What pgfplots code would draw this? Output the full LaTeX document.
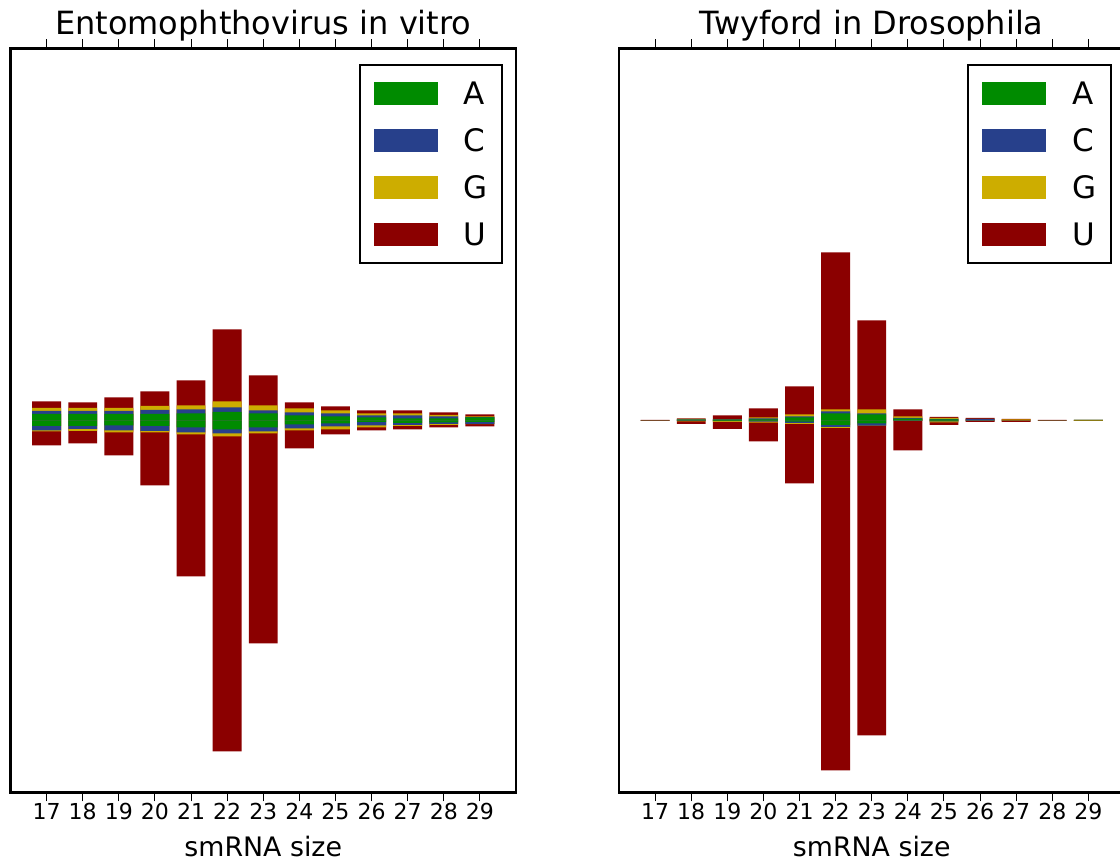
\documentclass[border=0pt]{standalone}
\usepackage{fontspec}
\setmainfont{DejaVu Sans}
\usepackage{pgfplots}
\usepackage{pgfplotstable}
\pgfplotsset{compat=1.18}

\definecolor{cA}{RGB}{0,139,0}
\definecolor{cC}{RGB}{39,64,139}
\definecolor{cG}{RGB}{205,173,0}
\definecolor{cU}{RGB}{139,0,0}

% cumulative stack tops (sense, above 0) and bottoms (antisense, below 0)
\pgfplotstableread{
x  Ap  Cp   Gp   Up  An  Cn   Gn   Un
17 6.3 9.3  12.3 19  5.7 10   11   25
18 6.3 9.3  12.3 18  5.7 8.7  10.7 23
19 6.3 9.3  12.3 23  5   10   12   35
20 6.3 10.3 14.3 29  5.7 10.7 12   65
21 7   11   15   40  7   12   14   156
22 8.3 13   19   91  9   13   16   331
23 7   10   15   45  7   11   13   223
24 5   8    12   18  4   8    10   28
25 4   7    10   14  3   6    9    14
26 3   5    7    10  1.7 5    7    10
27 2   5    7    10  2.7 4.7  5.7  9
28 2   4    5.3  8   2   3.7  4.7  7
29 3   3.2  4    6   1.7 3.7  3.8  6
}\entomo

\pgfplotstableread{
x  Ap  Cp  Gp  Up  An  Cn  Gn  Un
17 0   0   0   0.5 0   0   0   0.5
18 0.7 0.8 1.3 2   0.4 0.5 1   3.7
19 0.7 0.8 1   5   0.7 0.9 1.7 8.7
20 1   2   3   12  0.7 1.4 2.4 21
21 3   4   6   34  1.4 2.7 3.7 63
22 7   9   11  168 4.7 6.7 7.7 350
23 6   7   11  100 3   5.4 5.4 315
24 1.6 2.3 4   11  0.4 0.7 0.7 30
25 0.8 1.3 2.3 3.3 0.8 1   2   4.7
26 0   1.3 1.3 2.3 0   0.7 0.7 1.7
27 0   0   0.8 1.3 0   0   0.4 1.7
28 0   0   0   0.5 0   0   0   0.5
29 0.5 0.5 0.5 0.5 0   0   0.5 0.5
}\twyford

\pgfplotsset{
  panel/.style={
    width=252.75pt, height=372pt, scale only axis,
    xmin=16, xmax=30, ymin=-372, ymax=372,
    xtick={17,...,29}, ytick=\empty,
    xtick pos=both, xtick align=inside,
    major tick length=4.5pt,
    every tick/.style={black, line width=0.5pt},
    axis line style={line width=1.25pt},
    ybar,
    /pgf/number format/assume math mode=true,
    ticklabel style={font=\fontsize{11}{13}\selectfont},
    xticklabel style={anchor=base, yshift=-8.85pt},
    xlabel={smRNA size},
    xlabel style={font=\fontsize{13.4}{15}\selectfont, at={(axis description cs:0.5,0)}, anchor=base, yshift=-31.85pt},
    title style={font=\fontsize{16}{18}\selectfont, at={(axis description cs:0.5,1)}, anchor=base, yshift=1pt},
    legend cell align=left,
    legend style={at={(1,1)}, anchor=north east, xshift=-6.5pt, yshift=-7.85pt,
      draw=black, line width=1pt, font=\fontsize{15.5}{18}\selectfont,
      inner xsep=7pt, inner ysep=8.4pt, row sep=12pt, column sep=13pt,
      nodes={inner sep=0pt, text height=11.5pt, text depth=0pt}},
  },
  seg/.style={fill=#1, draw=none, bar shift=0pt, bar width=0.8, forget plot},
  legpatch/.style={fill=#1, draw=none,
    legend image code/.code={\fill (0pt,-5.75pt) rectangle (32pt,5.75pt);}},
}

\newcommand{\stacks}[1]{%
  \addplot[seg=cU] table[x=x, y=Up] {#1};
  \addplot[seg=cG] table[x=x, y=Gp] {#1};
  \addplot[seg=cC] table[x=x, y=Cp] {#1};
  \addplot[seg=cA] table[x=x, y=Ap] {#1};
  \addplot[seg=cU] table[x=x, y expr=-\thisrow{Un}] {#1};
  \addplot[seg=cG] table[x=x, y expr=-\thisrow{Gn}] {#1};
  \addplot[seg=cC] table[x=x, y expr=-\thisrow{Cn}] {#1};
  \addplot[seg=cA] table[x=x, y expr=-\thisrow{An}] {#1};
  \addlegendimage{legpatch=cA}\addlegendentry{A}
  \addlegendimage{legpatch=cC}\addlegendentry{C}
  \addlegendimage{legpatch=cG}\addlegendentry{G}
  \addlegendimage{legpatch=cU}\addlegendentry{U}
}

\begin{document}
\begin{tikzpicture}
\begin{axis}[panel, at={(5.25pt,35.35pt)}, anchor=south west,
  title={Entomophthovirus in vitro}]
\stacks{\entomo}
\end{axis}
\begin{axis}[panel, at={(309.5pt,35.35pt)}, anchor=south west,
  title={Twyford in Drosophila}]
\stacks{\twyford}
\end{axis}
\pgfresetboundingbox
\useasboundingbox (0,0) rectangle (560pt,431.5pt);
\end{tikzpicture}
\end{document}
